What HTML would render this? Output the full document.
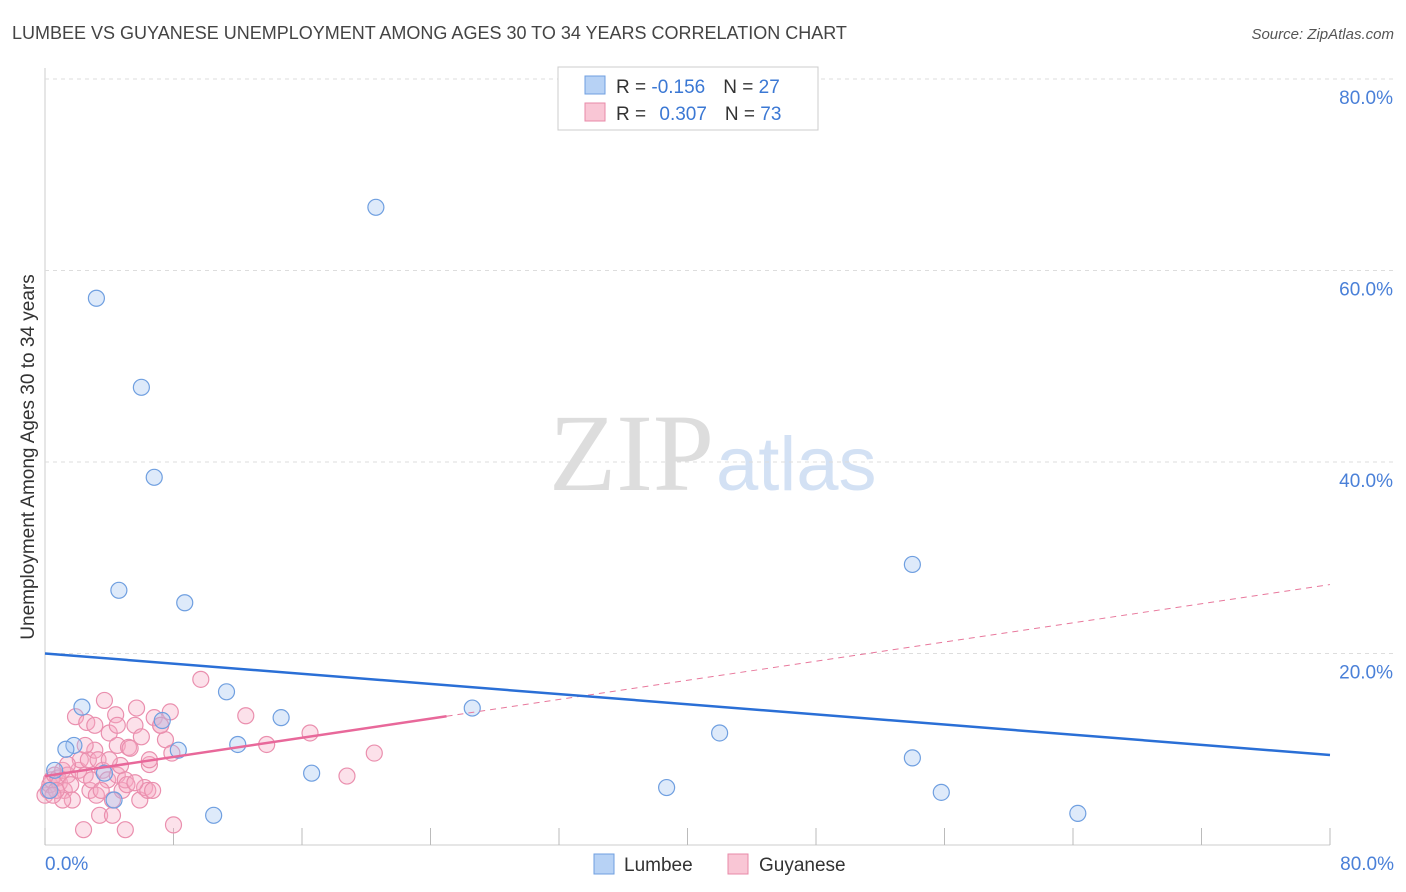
<!DOCTYPE html>
<html><head><meta charset="utf-8">
<style>
body{margin:0;background:#fff;font-family:"Liberation Sans",sans-serif;}
svg{display:block}
</style></head>
<body>
<svg id="chart" width="1406" height="892" xmlns="http://www.w3.org/2000/svg">
<text x="12" y="39" font-size="18" fill="#444">LUMBEE VS GUYANESE UNEMPLOYMENT AMONG AGES 30 TO 34 YEARS CORRELATION CHART</text>
<text x="1394" y="39" font-size="15" fill="#555" font-style="italic" text-anchor="end">Source: ZipAtlas.com</text>
<text x="714" y="490" font-size="110" fill="#ddd" text-anchor="end" font-family="Liberation Serif,serif">ZIP</text>
<text x="716" y="490" font-size="76" fill="#d3e1f4">atlas</text>
<text transform="translate(34,457) rotate(-90)" font-size="19" fill="#333" text-anchor="middle">Unemployment Among Ages 30 to 34 years</text>
<g id="grid"></g><g id="marks"></g>
<g>
<rect x="558" y="67" width="260" height="63" fill="#fff" stroke="#ccc"/>
<rect x="585" y="76" width="20" height="18" fill="#b7d2f5" stroke="#6f9fe0"/>
<rect x="585" y="103" width="20" height="18" fill="#f9c6d5" stroke="#e88aa8"/>
<text x="616" y="93" font-size="19" fill="#333">R = <tspan fill="#3b78d4">-0.156</tspan><tspan dx="18">N = </tspan><tspan fill="#3b78d4">27</tspan></text>
<text x="616" y="120" font-size="19" fill="#333">R = <tspan dx="8" fill="#3b78d4">0.307</tspan><tspan dx="18">N = </tspan><tspan fill="#3b78d4">73</tspan></text>
</g>
<g>
<rect x="594" y="854" width="20" height="20" fill="#b7d2f5" stroke="#6f9fe0"/>
<text x="624" y="871" font-size="19" fill="#333">Lumbee</text>
<rect x="728" y="854" width="20" height="20" fill="#f9c6d5" stroke="#e88aa8"/>
<text x="759" y="871" font-size="19" fill="#333">Guyanese</text>
</g>
</svg>
<script>
const lumbeeX=[3.2,6.0,6.8,20.6,4.6,8.7,54.0,2.3,11.3,14.7,7.3,26.6,1.8,1.3,8.3,12.0,42.0,54.0,16.6,0.6,3.7,4.3,38.7,55.8,10.5,64.3,0.3];
const lumbeeY=[57.1,47.8,38.4,66.6,26.6,25.3,29.3,14.4,16.0,13.3,13.0,14.3,10.4,10.0,9.9,10.5,11.7,9.1,7.5,7.8,7.5,4.7,6.0,5.5,3.1,3.3,5.7];
const guyX=[0,0.2,0.3,0.4,0.6,0.8,0.9,1.1,1.2,1.4,1.6,1.7,1.9,2.1,2.2,2.4,2.5,2.6,2.7,2.8,2.9,3.1,3.2,3.3,3.4,3.6,3.7,3.9,4.0,4.2,4.2,4.4,4.5,4.5,4.7,4.8,5.0,5.1,5.2,5.3,5.6,5.7,5.9,6.0,6.2,6.4,6.5,6.7,6.8,7.2,7.5,7.8,7.9,8.0,9.7,12.5,13.8,16.5,18.8,20.5,1.1,1.4,0.7,0.5,2.5,3.1,3.5,4.0,4.5,5.0,5.6,6.5,7.2];
const guyY=[5.2,5.7,6.3,6.8,7.3,7.0,6.5,7.8,5.7,7.3,6.3,4.7,13.4,7.8,8.9,1.6,7.3,12.8,8.9,5.7,6.8,9.9,5.2,8.9,3.1,7.8,15.1,6.8,11.7,4.7,3.1,13.6,10.4,7.3,8.3,5.7,6.8,6.3,10.2,10.1,12.5,14.3,4.7,11.3,6.0,5.7,8.4,5.7,13.3,12.5,11.0,13.9,9.6,2.1,17.3,13.5,10.5,11.7,7.2,9.6,4.7,8.4,5.7,5.2,10.4,12.5,5.7,8.9,12.5,1.6,6.5,8.9,12.5];
const yTicks=[20,40,60,80];
const xTicks=[0,8,16,24,32,40,48,56,64,72,80];
const lumbeeTrend=[20.0,9.4];
const guyTrend=[7.2,27.2];
const guySolidEnd=25;
const NS="http://www.w3.org/2000/svg";
const X=v=>45+v*16.0625, Y=v=>845-v*9.575;
const grid=document.getElementById('grid'),marks=document.getElementById('marks');
function mk(tag,attrs,parent){const e=document.createElementNS(NS,tag);for(const k in attrs)e.setAttribute(k,attrs[k]);parent.appendChild(e);return e;}
let a=mk('line',{x1:45,y1:68,x2:45,y2:845,stroke:'#ccc'},grid);


let b=mk('line',{x1:45,y1:845,x2:1330,y2:845,stroke:'#ccc'},grid);


yTicks.forEach(t=>{
 const g=mk('line',{x1:45,y1:Y(t),x2:1394,y2:Y(t),stroke:'#ddd','stroke-dasharray':'4,4'},grid);
 
 
 const l=mk('text',{x:1393,y:Y(t)+25,'font-size':19,fill:'#4a80d8','text-anchor':'end'},grid);
 l.textContent=t.toFixed(1)+'%';
 
 
});
xTicks.forEach(t=>{
 const g=mk('line',{x1:X(t),y1:828,x2:X(t),y2:845,stroke:'#bbb'},grid);
 
 
});
[[0,'start',45],[80,'end',1394]].forEach(([t,an,x])=>{
 const l=mk('text',{x:x,y:870,'font-size':19,fill:'#4a80d8','text-anchor':an},grid);
 l.textContent=t.toFixed(1)+'%';
 
 
});
guyX.forEach((v,i)=>{
 const c=mk('circle',{cx:X(v),cy:Y(guyY[i]),r:8,fill:'rgba(245,170,195,0.35)',stroke:'#ea8fae','stroke-width':1.2},marks);
 
 
});
lumbeeX.forEach((v,i)=>{
 const c=mk('circle',{cx:X(v),cy:Y(lumbeeY[i]),r:8,fill:'rgba(160,195,240,0.35)',stroke:'#6f9fe0','stroke-width':1.2},marks);
 
 
});
const gAt=v=>guyTrend[0]+(guyTrend[1]-guyTrend[0])*v/80;
let d=mk('line',{x1:X(guySolidEnd),y1:Y(gAt(guySolidEnd)),x2:X(80),y2:Y(guyTrend[1]),stroke:'#e8789c','stroke-width':1,'stroke-dasharray':'6,5'},marks);


let s=mk('line',{x1:X(0),y1:Y(guyTrend[0]),x2:X(guySolidEnd),y2:Y(gAt(guySolidEnd)),stroke:'#e8689a','stroke-width':2.5},marks);


let lt=mk('line',{x1:X(0),y1:Y(lumbeeTrend[0]),x2:X(80),y2:Y(lumbeeTrend[1]),stroke:'#2a6fd6','stroke-width':2.5},marks);


</script>
</body></html>
